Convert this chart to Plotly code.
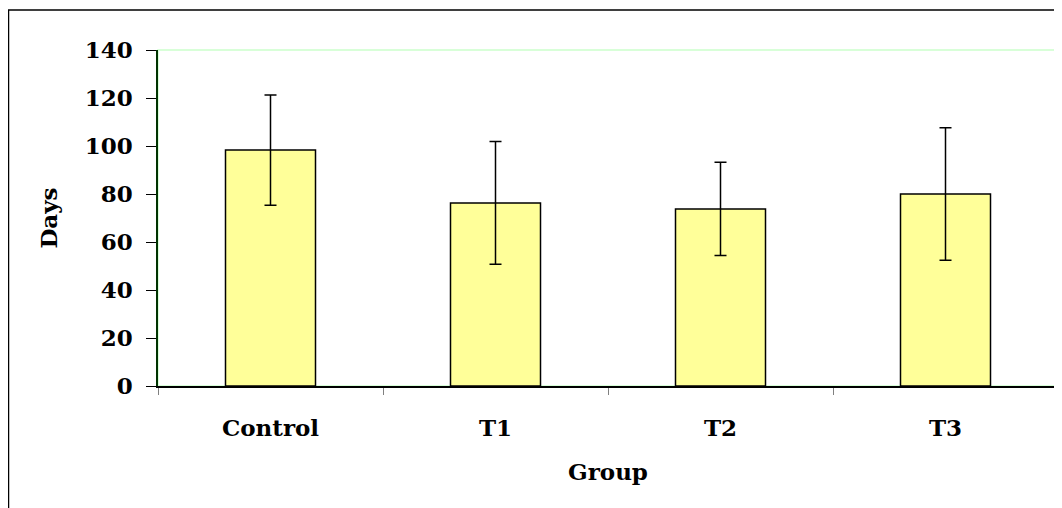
import plotly.graph_objects as go

groups = ["Control", "T1", "T2", "T3"]
days_mean = [98.3, 76.3, 73.8, 80.0]
days_err = [23.0, 25.6, 19.4, 27.6]
y_ticks = [0, 20, 40, 60, 80, 100, 120, 140]

W, H = 1062, 508
L, R, T, B = 150, 12, 42, 130
pw, ph = W - L - R, H - T - B

FONT = "DejaVu Serif"

fig = go.Figure()
fig.add_trace(go.Bar(
    x=groups, y=days_mean,
    width=0.4,
    marker=dict(color="#FFFF99", line=dict(color="black", width=1.5)),
    error_y=dict(type="data", array=days_err, visible=True,
                 color="black", thickness=1.5, width=6),
))

fig.update_layout(
    width=W, height=H,
    margin=dict(l=L, r=R, t=T, b=B),
    paper_bgcolor="white", plot_bgcolor="white",
    showlegend=False,
    font=dict(family=FONT, color="black"),
    xaxis=dict(
        showline=True, linecolor="black", linewidth=1.5,
        ticks="outside", tickson="boundaries", ticklen=7, tickcolor="#808080",
        tickfont=dict(family=FONT, size=23, color="black", weight="bold"),
        ticklabelstandoff=21,
        title=dict(text="<b>Group</b>", font=dict(family=FONT, size=23), standoff=24),
        showgrid=False,
    ),
    yaxis=dict(
        range=[0, 140], tickvals=y_ticks,
        showline=True, linecolor="#003300", linewidth=1.5,
        ticks="outside", ticklen=10, tickcolor="black",
        tickfont=dict(family=FONT, size=23, color="black", weight="bold"),
        ticklabelstandoff=9,
        title=dict(text="<b>Days</b>", font=dict(family=FONT, size=23), standoff=21),
        showgrid=False, zeroline=False,
    ),
)

# light green plot-area border
fig.add_shape(type="rect", xref="paper", yref="paper", x0=0, y0=0, x1=1, y1=1,
              line=dict(color="#CCFFCC", width=1.5), layer="below")
# outer chart border (left and top edges visible)
fig.add_shape(type="rect", xref="paper", yref="paper",
              x0=(0.5 - L) / pw, y0=-(B + 20) / ph,
              x1=(W + 20 - L) / pw, y1=(ph + T - 2) / ph,
              line=dict(color="black", width=1.5), fillcolor="rgba(0,0,0,0)")

fig.write_html("out.html")
